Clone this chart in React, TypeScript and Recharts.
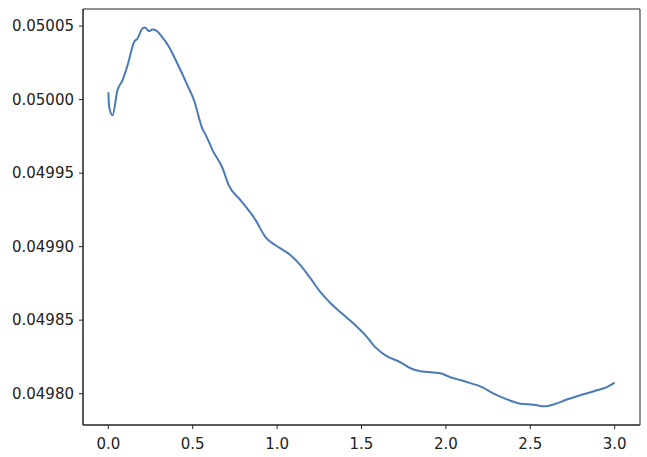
import * as React from 'react';
import { LineChart, Line, XAxis, YAxis, ReferenceArea } from 'recharts';

const xValues = [
  0, 0.005, 0.025, 0.054, 0.084, 0.114, 0.153, 0.173, 0.202, 0.218, 0.241, 0.261, 0.287, 0.311,
  0.36, 0.409, 0.469, 0.508, 0.557, 0.577, 0.618, 0.677, 0.713, 0.784, 0.873, 0.932, 0.991,
  1.08, 1.139, 1.198, 1.257, 1.317, 1.376, 1.464, 1.524, 1.583, 1.642, 1.731, 1.79, 1.849,
  1.967, 2.027, 2.086, 2.145, 2.214, 2.283, 2.362, 2.441, 2.52, 2.589, 2.638, 2.717, 2.815,
  2.895, 2.954, 3.0,
];

const yValues = [
  0.050005, 0.049995, 0.0499893, 0.0500063, 0.0500131, 0.0500233, 0.0500392, 0.0500415,
  0.0500483, 0.050049, 0.0500465, 0.0500476, 0.0500467, 0.0500437, 0.0500358, 0.0500245,
  0.0500097, 0.0499995, 0.0499803, 0.049976, 0.0499655, 0.0499533, 0.0499418, 0.0499315,
  0.049918, 0.0499063, 0.0499009, 0.0498941, 0.0498873, 0.0498784, 0.049869, 0.0498615,
  0.0498553, 0.0498465, 0.0498397, 0.0498315, 0.0498261, 0.0498213, 0.0498173, 0.0498152,
  0.0498139, 0.0498112, 0.0498093, 0.0498072, 0.0498045, 0.0498, 0.0497961, 0.0497932,
  0.0497925, 0.0497914, 0.0497927, 0.049796, 0.0497996, 0.0498023, 0.0498045, 0.0498075,
];

const xTicks = [0, 0.5, 1, 1.5, 2, 2.5, 3];
const yTicks = [0.0498, 0.04985, 0.0499, 0.04995, 0.05, 0.05005];
const xDomain = [-0.15, 3.15];
const yDomain = [0.0497787, 0.0500616];

const data = xValues.map((x, i) => ({ x, y: yValues[i] }));

const tickStyle = { fontSize: 15, fill: '#222', fontFamily: 'DejaVu Sans' };

export default function App() {
  return (
    <div>
      <style>{`body { margin: 0; }`}</style>
      <LineChart width={647} height={457} data={data} margin={{ top: 9, right: 7, bottom: 0, left: 0 }}>
        <XAxis
          dataKey="x"
          type="number"
          domain={xDomain}
          ticks={xTicks}
          tickFormatter={(v: number) => v.toFixed(1)}
          height={32}
          tickSize={4}
          tickMargin={9}
          stroke="#222"
          tick={tickStyle}
          allowDataOverflow
        />
        <YAxis
          type="number"
          domain={yDomain}
          ticks={yTicks}
          tickFormatter={(v: number) => v.toFixed(5)}
          width={83}
          tickSize={4}
          tickMargin={5}
          stroke="#222"
          tick={tickStyle}
          allowDataOverflow
        />
        <ReferenceArea
          x1={xDomain[0]}
          x2={xDomain[1]}
          y1={yDomain[0]}
          y2={yDomain[1]}
          fill="none"
          fillOpacity={0}
          stroke="#222"
          strokeWidth={1}
          ifOverflow="visible"
        />
        <Line
          type="monotoneX"
          dataKey="y"
          stroke="#4a7ab8"
          strokeWidth={2}
          dot={false}
          isAnimationActive={false}
        />
      </LineChart>
    </div>
  );
}
